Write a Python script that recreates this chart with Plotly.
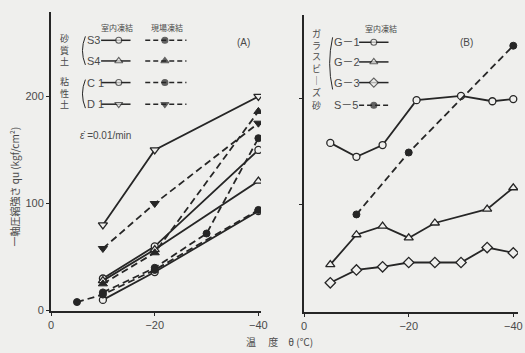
import plotly.graph_objects as go

# ---- (A) sandy / clayey soils: unconfined compressive strength vs. temperature ----
S3_lab_t = [-10, -20, -40]
S3_lab_q = [30, 60, 150]
S4_lab_t = [-10, -20, -40]
S4_lab_q = [28, 57, 121]
C1_lab_t = [-10, -20, -40]
C1_lab_q = [10, 36, 93]
D1_lab_t = [-10, -20, -40]
D1_lab_q = [80, 150, 200]

S3_field_t = [-10, -20, -30, -40]
S3_field_q = [17, 40, 72, 161]
S4_field_t = [-10, -20, -40]
S4_field_q = [25, 54, 186]
C1_field_t = [-5, -10, -20, -40]
C1_field_q = [8, 15, 38, 94]
D1_field_t = [-10, -20, -40]
D1_field_q = [58, 100, 175]

# ---- (B) glass beads / sand ----
G1_t = [-5, -10, -15, -21.5, -30, -36, -40]
G1_q = [158, 145, 156, 198, 202, 197, 199]
G2_t = [-5, -10, -15, -20, -25, -35, -40]
G2_q = [44, 72, 80, 69, 83, 96, 116]
G3_t = [-5, -10, -15, -20, -25, -30, -35, -40]
G3_q = [27, 39, 42, 46, 46, 46, 60, 55]
S5_t = [-10, -20, -40]
S5_q = [91, 149, 249]

x_ticks = [0, -20, -40]
x_tick_text = ["0", "−20", "−40"]
y_ticks = [0, 100, 200]
y_tick_text = ["0", "100", "200"]

BG = "#efefed"
INK = "#262626"
TXT = "#4a4a4a"
FONT = "Liberation Sans, Noto Sans CJK JP, sans-serif"
JFONT = "Noto Sans CJK JP, sans-serif"
W, H = 525, 353
DASH = "7px,4px"

fig = go.Figure()


def marker(sym, filled, size=7):
    if filled:
        return dict(symbol=sym, size=size, color=INK, line=dict(color=INK, width=1))
    return dict(symbol=sym, size=size, color=BG, line=dict(color=INK, width=1.3))


def series(t, q, sym, filled, dashed, xa, ya, size=7):
    fig.add_trace(go.Scatter(
        x=t, y=q, mode="lines+markers", xaxis=xa, yaxis=ya,
        line=dict(color=INK, width=1.8, dash=DASH if dashed else "solid"),
        marker=marker(sym, filled, size), showlegend=False, hoverinfo="skip"))


# panel A
series(D1_lab_t, D1_lab_q, "triangle-down", False, False, "x", "y", 8)
series(S3_lab_t, S3_lab_q, "circle", False, False, "x", "y")
series(S4_lab_t, S4_lab_q, "triangle-up", False, False, "x", "y", 8)
series(C1_lab_t, C1_lab_q, "circle", False, False, "x", "y")
series(D1_field_t, D1_field_q, "triangle-down", True, True, "x", "y", 8)
series(S3_field_t, S3_field_q, "circle", True, True, "x", "y")
series(S4_field_t, S4_field_q, "triangle-up", True, True, "x", "y", 8)
series(C1_field_t, C1_field_q, "circle", True, True, "x", "y")

# panel B
series(G1_t, G1_q, "circle", False, False, "x2", "y2")
series(G2_t, G2_q, "triangle-up", False, False, "x2", "y2", 8)
series(G3_t, G3_q, "diamond", False, False, "x2", "y2", 8)
series(S5_t, S5_q, "circle", True, True, "x2", "y2")


# ---- legend keys on a full-page pixel axis (x3/y3) ----
def key(x0, x1, xm, y, sym, filled, dashed, size=6):
    fig.add_trace(go.Scatter(
        x=[x0, xm, x1], y=[y, y, y], mode="lines+markers", xaxis="x3", yaxis="y3",
        line=dict(color=INK, width=1.5, dash="5px,3px" if dashed else "solid"),
        marker=dict(symbol=sym, size=[0, size, 0],
                    color=INK if filled else BG,
                    line=dict(color=INK, width=1.1)),
        showlegend=False, hoverinfo="skip"))


rowsA = [("S3", 41, "circle", "circle"),
         ("S4", 62, "triangle-up", "triangle-up"),
         ("C 1", 84, "circle", "circle"),
         ("D 1", 106, "triangle-down", "triangle-down")]
ann = []
for lab, y, s_lab, s_fld in rowsA:
    sz = 7 if "triangle" in s_lab else 6
    key(100, 130, 118, y, s_lab, False, False, sz)
    key(145, 187, 165, y, s_fld, True, True, sz)
    ann.append(dict(x=84, y=y, text=lab, xanchor="left"))

rowsB = [("G－1", 43, "circle", False, False),
         ("G－2", 63, "triangle-up", False, False),
         ("G－3", 84, "diamond", False, False),
         ("S－5", 107, "circle", True, True)]
for lab, y, sym, filled, dashed in rowsB:
    sz = 6 if sym == "circle" else 7
    key(363, 393, 378, y, sym, filled, dashed, sz)
    ann.append(dict(x=335, y=y, text=lab, xanchor="left"))

annotations = []
for a in ann:
    annotations.append(dict(xref="x3", yref="y3", showarrow=False, yanchor="middle",
                            font=dict(family=FONT, size=11, color=TXT), **a))


def text(x, y, s, size=10, family=JFONT, **kw):
    annotations.append(dict(xref="x3", yref="y3", x=x, y=y, text=s, showarrow=False,
                            font=dict(family=family, size=size, color=TXT), **kw))


text(116, 28, "室内凍結", 8)
text(167, 28, "現場凍結", 8)
text(385, 29, "室内凍結", 8)
text(63, 51, "砂<br>質<br>土", 9)
text(63, 95, "粘<br>性<br>土", 9)
text(320, 64, "ガ<br>ラ<br>ス<br>ビ<br>｜<br>ズ", 9)
text(320, 107, "砂", 9)
text(245, 43, "(A)", 10, FONT)
text(473, 43, "(B)", 10, FONT)
text(104, 138, "<i>ε̇</i> =0.01/min", 10, FONT)
text(282, 347, "温　 度　θ (℃)", 10)
text(12, 190, "一軸圧縮強さ qu (kgf/cm²)", 10, textangle=-90)

# brackets grouping the legend rows
shapes = []
for y0, y1, x in [(37, 66, 81), (81, 110, 81), (38, 91, 333)]:
    shapes.append(dict(type="path", xref="x3", yref="y3",
                       path=f"M {x + 3},{y0} Q {x - 3},{(y0 + y1) / 2} {x + 3},{y1}",
                       line=dict(color=INK, width=1)))

axis_common = dict(showgrid=False, zeroline=False, showline=True, linecolor=INK,
                   linewidth=2, ticks="outside", ticklen=3, tickcolor=INK,
                   tickfont=dict(family=FONT, size=11, color=TXT))

fig.update_layout(
    width=W, height=H, margin=dict(l=0, r=0, t=0, b=0),
    paper_bgcolor=BG, plot_bgcolor="rgba(0,0,0,0)",
    showlegend=False,
    xaxis=dict(domain=[49 / W, 263 / W], range=[0, -40.5], anchor="y",
               tickvals=x_ticks, ticktext=x_tick_text, **axis_common),
    yaxis=dict(domain=[(H - 316) / H, (H - 12) / H], range=[0, 279], anchor="x",
               tickvals=y_ticks, ticktext=y_tick_text, **axis_common),
    xaxis2=dict(domain=[307 / W, 1.0], range=[0, -40.9], anchor="y2",
                tickvals=x_ticks, ticktext=x_tick_text, **axis_common),
    yaxis2=dict(domain=[(H - 317) / H, (H - 15) / H], range=[0, 278], anchor="x2",
                tickvals=[100, 200], showticklabels=False, **axis_common),
    xaxis3=dict(domain=[0, 1], range=[0, W], anchor="y3", visible=False, fixedrange=True),
    yaxis3=dict(domain=[0, 1], range=[H, 0], anchor="x3", visible=False, fixedrange=True),
    annotations=annotations,
    shapes=shapes,
)

fig.write_html("out.html")
